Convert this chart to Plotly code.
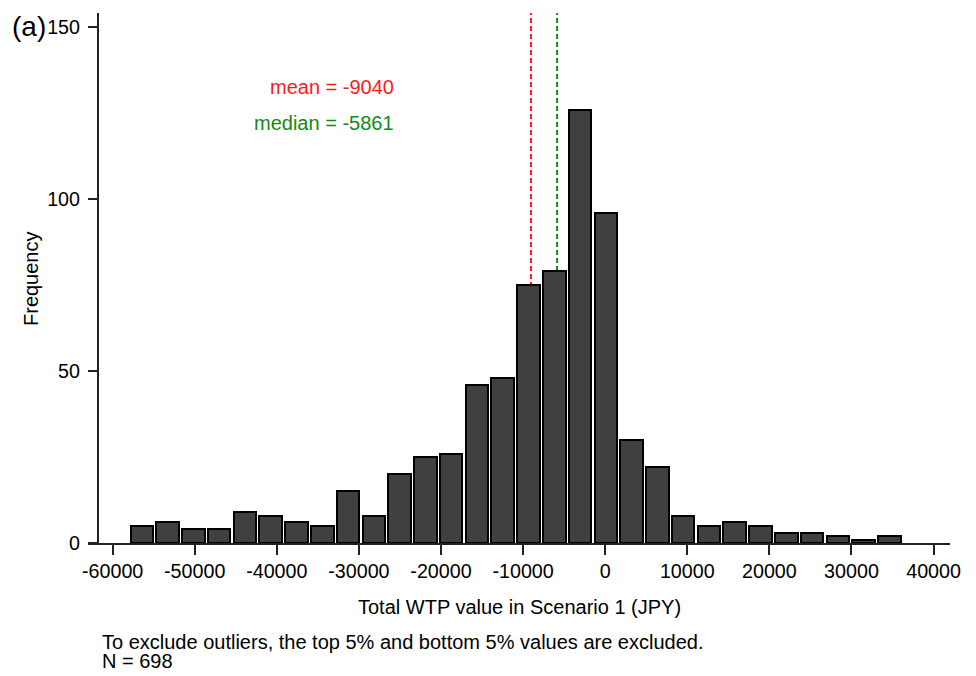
import plotly.graph_objects as go

# ---- data ----
counts = [5, 6, 4, 4, 9, 8, 6, 5, 15, 8, 20, 25, 26, 46, 48,
          75, 79, 126, 96, 30, 22, 8, 5, 6, 5, 3, 3, 2, 1, 2]
bin_start = -58015
bin_width = 3140
mean_val = -9040
median_val = -5861
n_obs = 698
x_ticks = [-60000, -50000, -40000, -30000, -20000, -10000, 0, 10000, 20000, 30000, 40000]
y_ticks = [0, 50, 100, 150]

centers = [bin_start + bin_width * (i + 0.5) for i in range(len(counts))]

W, H = 976, 676
ML, MR, MT, MB = 88, 26, 13, 133
PW = W - ML - MR
PH = H - MT - MB
XR = [-63000, 42000]
YR = [0, 154.2]
FONT = "Liberation Sans, Arial, sans-serif"
TXT = 20
TICK = 19.7


def px_x(px):
    return (px - ML) / PW


def px_y(py):
    return 1 - (py - MT) / PH


fig = go.Figure()
fig.add_trace(go.Bar(
    x=centers, y=counts, width=[bin_width * 0.875] * len(counts),
    marker=dict(color="#404040", line=dict(color="#000000", width=2)),
    hoverinfo="x+y", showlegend=False,
))

for val, col in [(mean_val, "#ff1a1a"), (median_val, "#138a13")]:
    fig.add_shape(type="line", xref="x", yref="y", x0=val, x1=val, y0=0, y1=YR[1],
                  line=dict(color=col, width=2, dash="5px,3px"), layer="below")

fig.add_annotation(xref="x", yref="y", x=-25500, y=132.7, text=f"mean = {mean_val}",
                   showarrow=False, xanchor="right", yanchor="middle",
                   font=dict(family=FONT, size=TXT, color="#ff1a1a"))
fig.add_annotation(xref="x", yref="y", x=-25500, y=122.1, text=f"median = {median_val}",
                   showarrow=False, xanchor="right", yanchor="middle",
                   font=dict(family=FONT, size=TXT, color="#138a13"))

fig.add_annotation(xref="paper", yref="paper", x=px_x(10), y=px_y(27), text="(a)",
                   showarrow=False, xanchor="left", yanchor="middle",
                   font=dict(family=FONT, size=28, color="black"))
fig.add_annotation(xref="paper", yref="paper", x=0.5, y=px_y(607),
                   text="Total WTP value in Scenario 1 (JPY)",
                   showarrow=False, xanchor="center", yanchor="middle",
                   font=dict(family=FONT, size=TXT, color="black"))
fig.add_annotation(xref="paper", yref="paper", x=px_x(31), y=px_y(278),
                   text="Frequency", textangle=-90,
                   showarrow=False, xanchor="center", yanchor="middle",
                   font=dict(family=FONT, size=TXT, color="black"))
fig.add_annotation(xref="paper", yref="paper", x=px_x(100), y=px_y(642),
                   text="To exclude outliers, the top 5% and bottom 5% values are excluded.",
                   showarrow=False, xanchor="left", yanchor="middle",
                   font=dict(family=FONT, size=TXT, color="black"))
fig.add_annotation(xref="paper", yref="paper", x=px_x(100), y=px_y(661),
                   text=f"N = {n_obs}",
                   showarrow=False, xanchor="left", yanchor="middle",
                   font=dict(family=FONT, size=TXT, color="black"))

fig.update_layout(
    width=W, height=H,
    margin=dict(l=ML, r=MR, t=MT, b=MB, pad=0),
    paper_bgcolor="white", plot_bgcolor="white",
    font=dict(family=FONT, size=TXT, color="black"),
    bargap=0,
    xaxis=dict(range=XR, tickvals=x_ticks, ticktext=[str(v) for v in x_ticks],
               showgrid=False, zeroline=False, showline=True, linecolor="#222",
               linewidth=1.5, ticks="outside", ticklen=10, tickwidth=1.5, tickcolor="#222",
               tickfont=dict(family=FONT, size=TICK, color="black"), fixedrange=True),
    yaxis=dict(range=YR, tickvals=y_ticks, ticktext=[str(v) for v in y_ticks],
               showgrid=False, zeroline=False, showline=True, linecolor="#222",
               linewidth=1.5, ticks="outside", ticklen=9, tickwidth=1.5, tickcolor="#222",
               anchor="free", position=px_x(97.7), ticklabelstandoff=4,
               tickfont=dict(family=FONT, size=TICK, color="black"), fixedrange=True),
)

fig.write_html("out.html")
